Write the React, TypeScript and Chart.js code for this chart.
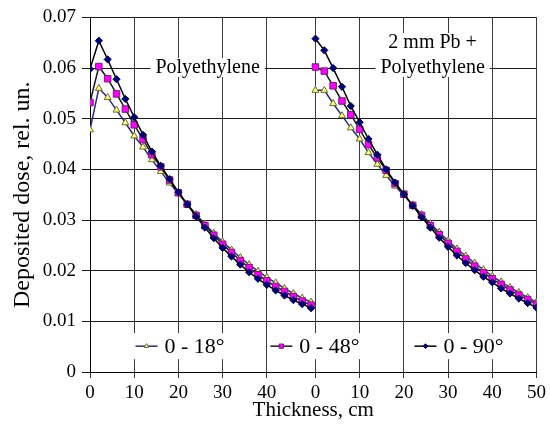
import React, { useEffect, useRef } from "react";
import { Chart, registerables } from "chart.js";
import { drawPoint } from "chart.js/helpers";

Chart.register(...registerables);

// Thickness of polyethylene, cm (same grid in both panels)
const thicknessCm = [0, 2, 4, 6, 8, 10, 12, 14, 16, 18, 20, 22, 24, 26, 28, 30, 32, 34, 36, 38, 40, 42, 44, 46, 48, 50];
// Right panel is shifted along the shared x axis
const rightPanelOffset = 51;

// Left panel: Polyethylene
const pe18 = [0.0478, 0.056, 0.0542, 0.0517, 0.0492, 0.0466, 0.0444, 0.0419, 0.0396, 0.0373, 0.0352, 0.0331, 0.0311, 0.0292, 0.0274, 0.0257, 0.0241, 0.0226, 0.0212, 0.0199, 0.0187, 0.0176, 0.0165, 0.0155, 0.0146, 0.0138];
const pe48 = [0.0532, 0.0603, 0.0579, 0.0549, 0.0519, 0.0488, 0.0459, 0.0429, 0.0405, 0.0379, 0.0354, 0.0331, 0.0309, 0.0289, 0.027, 0.0252, 0.0236, 0.022, 0.0206, 0.0192, 0.018, 0.0169, 0.0159, 0.0149, 0.014, 0.0132];
const pe90 = [0.0598, 0.0654, 0.0617, 0.0578, 0.0539, 0.0503, 0.0468, 0.0435, 0.0407, 0.0381, 0.0355, 0.0331, 0.0307, 0.0285, 0.0264, 0.0245, 0.0228, 0.0212, 0.0197, 0.0184, 0.0172, 0.0161, 0.0151, 0.0142, 0.0134, 0.0126];

// Right panel: 2 mm Pb + Polyethylene
const pb18 = [0.0556, 0.0556, 0.053, 0.0506, 0.0482, 0.046, 0.0433, 0.041, 0.0388, 0.0367, 0.0349, 0.033, 0.0311, 0.0293, 0.0276, 0.0259, 0.0243, 0.0229, 0.0215, 0.0202, 0.0189, 0.0178, 0.0167, 0.0157, 0.0147, 0.0138];
const pb48 = [0.0602, 0.0594, 0.0565, 0.0535, 0.0508, 0.0479, 0.0449, 0.0423, 0.0398, 0.0372, 0.0351, 0.0329, 0.0309, 0.0289, 0.0271, 0.0254, 0.0238, 0.0223, 0.0209, 0.0196, 0.0184, 0.0173, 0.0162, 0.0152, 0.0143, 0.0134];
const pb90 = [0.0658, 0.0635, 0.06, 0.0563, 0.0525, 0.0493, 0.046, 0.0429, 0.04, 0.0374, 0.0351, 0.0328, 0.0306, 0.0285, 0.0265, 0.0247, 0.023, 0.0215, 0.0201, 0.0188, 0.0177, 0.0165, 0.0155, 0.0145, 0.0136, 0.0127];

const seriesLabels = ["0 - 18°", "0 - 48°", "0 - 90°"];
const xTickValues = [0, 10, 20, 30, 40, 51, 61, 71, 81, 91, 101];
const xTickLabels = ["0", "10", "20", "30", "40", "0", "10", "20", "30", "40", "50"];
const yTickValues = [0, 0.01, 0.02, 0.03, 0.04, 0.05, 0.06, 0.07];
const yTickLabels = ["0", "0.01", "0.02", "0.03", "0.04", "0.05", "0.06", "0.07"];
const panelTitleLeft = ["Polyethylene"];
const panelTitleRight = ["2 mm Pb +", "Polyethylene"];

const FONT = "'Liberation Serif', 'Times New Roman', serif";

const styles = [
  { line: "#2a2a86", pointStyle: "triangle", radius: 4, bg: "#ffff66", border: "#6a6a40", legendRadius: 2.6 },
  { line: "#1a1a1a", pointStyle: "rect", radius: 4.6, bg: "#ff00ff", border: "#7a1a7a", legendRadius: 3 },
  { line: "#000000", pointStyle: "rectRot", radius: 3.6, bg: "#000080", border: "#000050", legendRadius: 2.4 },
];

function pts(values: number[], offset: number) {
  return thicknessCm.map((t, i) => ({ x: t + offset, y: values[i] }));
}

const overlayPlugin = {
  id: "overlay",
  afterDatasetsDraw(chart: any) {
    const ctx = chart.ctx as CanvasRenderingContext2D;
    const xs = chart.scales.x;
    const ys = chart.scales.y;
    ctx.save();

    // panel titles
    ctx.font = `20px ${FONT}`;
    ctx.textAlign = "center";
    ctx.textBaseline = "middle";
    const drawLabel = (lines: string[], xv: number, yv: number) => {
      const cx = xs.getPixelForValue(xv);
      const by = ys.getPixelForValue(yv);
      const lh = 25;
      const w = Math.max(...lines.map((l) => ctx.measureText(l).width)) + 10;
      const top = by - (lines.length - 1) * lh - 10;
      ctx.fillStyle = "#ffffff";
      ctx.fillRect(cx - w / 2, top, w, (lines.length - 1) * lh + 19);
      ctx.fillStyle = "#000000";
      lines.forEach((l, i) => {
        ctx.fillText(l, cx, by - (lines.length - 1 - i) * lh);
      });
    };
    drawLabel(panelTitleLeft, 26.6, 0.06);
    drawLabel(panelTitleRight, 77.5, 0.06);

    // legend
    ctx.font = `22px ${FONT}`;
    ctx.textAlign = "left";
    const ly = ys.getPixelForValue(0.0051);
    const entryX = [10.3, 40.8, 73.4];
    seriesLabels.forEach((label, i) => {
      const st = styles[i];
      const x0 = xs.getPixelForValue(entryX[i]);
      const tw = ctx.measureText(label).width;
      const lineLen = 22;
      const gap = 7;
      ctx.fillStyle = "#ffffff";
      ctx.fillRect(x0 - 1.5, ly - 13, lineLen + gap + tw + 6, 26);
      ctx.strokeStyle = st.line;
      ctx.lineWidth = 1.5;
      ctx.beginPath();
      ctx.moveTo(x0, ly);
      ctx.lineTo(x0 + lineLen, ly);
      ctx.stroke();
      ctx.fillStyle = st.bg;
      ctx.strokeStyle = st.border;
      ctx.lineWidth = 1;
      drawPoint(ctx, { pointStyle: st.pointStyle as any, radius: st.legendRadius, rotation: 0, borderWidth: 1 }, x0 + lineLen / 2, ly);
      ctx.fillStyle = "#000000";
      ctx.fillText(label, x0 + lineLen + gap, ly + 1);
    });
    ctx.restore();
  },
};

export default function App() {
  const ref = useRef<HTMLCanvasElement | null>(null);
  useEffect(() => {
    if (!ref.current) return;
    let chart: Chart | null = null;
    let cancelled = false;
    const mk = (values: number[], offset: number, si: number) => ({
      label: seriesLabels[si],
      data: pts(values, offset),
      borderColor: styles[si].line,
      borderWidth: 1.5,
      pointStyle: styles[si].pointStyle,
      pointRadius: styles[si].radius,
      pointBackgroundColor: styles[si].bg,
      pointBorderColor: styles[si].border,
      pointBorderWidth: 1,
      fill: false,
      tension: 0,
      order: 3 - si,
    });
    const build = () => {
      if (cancelled || !ref.current) return;
      chart = new Chart(ref.current, {
        type: "line",
        data: {
          datasets: [
            mk(pe18, 0, 0),
            mk(pe48, 0, 1),
            mk(pe90, 0, 2),
            mk(pb18, rightPanelOffset, 0),
            mk(pb48, rightPanelOffset, 1),
            mk(pb90, rightPanelOffset, 2),
          ] as any,
        },
        options: {
          animation: false,
          responsive: false,
          layout: { padding: { top: 17, right: 12, left: 0, bottom: 0 } },
          plugins: { legend: { display: false }, tooltip: { enabled: false } },
          scales: {
            x: {
              type: "linear",
              min: 0,
              max: 101,
              afterBuildTicks: (s: any) => {
                s.ticks = xTickValues.map((v) => ({ value: v }));
              },
              afterFit: (s: any) => {
                s.height = 55;
              },
              ticks: {
                autoSkip: false,
                maxRotation: 0,
                padding: 4,
                color: "#000",
                font: { family: FONT, size: 19 },
                callback: (_v: any, i: number) => xTickLabels[i],
              },
              grid: { color: "#3a3a3a", lineWidth: 1, tickLength: 6, drawTicks: true },
              border: { display: true, color: "#000", width: 1 },
              title: {
                display: true,
                text: "Thickness, cm",
                color: "#000",
                font: { family: FONT, size: 21 },
                padding: { top: 0, bottom: 4 },
              },
            },
            y: {
              type: "linear",
              min: 0,
              max: 0.07,
              afterBuildTicks: (s: any) => {
                s.ticks = yTickValues.map((v) => ({ value: v }));
              },
              afterFit: (s: any) => {
                s.width = 90;
              },
              ticks: {
                padding: 6,
                color: "#000",
                font: { family: FONT, size: 19 },
                callback: (_v: any, i: number) => yTickLabels[i],
              },
              grid: { color: "#1a1a1a", lineWidth: 1, tickLength: 8, drawTicks: true },
              border: { display: true, color: "#000", width: 1 },
              title: {
                display: true,
                text: "Deposited dose, rel. un.",
                color: "#000",
                font: { family: FONT, size: 24 },
                padding: { top: 8, bottom: 0 },
              },
            },
          },
        } as any,
        plugins: [overlayPlugin],
      });
    };
    const fonts: any = (document as any).fonts;
    if (fonts && fonts.load) {
      Promise.all([
        fonts.load("20px 'Liberation Serif'"),
        fonts.load("20px 'Liberation Serif'", "0123456789°"),
      ])
        .catch(() => null)
        .then(build);
    } else {
      build();
    }
    return () => {
      cancelled = true;
      if (chart) chart.destroy();
    };
  }, []);
  return (
    <div style={{ position: "absolute", left: 0, top: 0, width: 550, height: 427, background: "#fff" }}>
      <canvas ref={ref} width={550} height={427} style={{ display: "block" }} />
    </div>
  );
}
